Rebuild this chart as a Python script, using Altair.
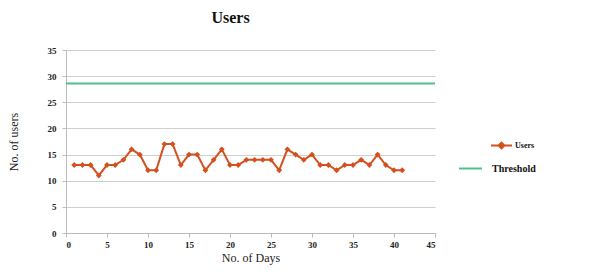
import altair as alt
import pandas as pd

days = list(range(1, 42))
users = [13, 13, 13, 11, 13, 13, 14, 16, 15, 12, 12, 17, 17, 13, 15, 15, 12, 14, 16, 13,
         13, 14, 14, 14, 14, 12, 16, 15, 14, 15, 13, 13, 12, 13, 13, 14, 13, 15, 13, 12, 12]
threshold = 28.6
users_color = "#D2511F"
threshold_color = "#4CC08E"
x_ticks = list(range(0, 46, 5))
y_ticks = list(range(0, 36, 5))

df = pd.DataFrame({"day": days, "users": users, "series": "Users"})
thr = pd.DataFrame({"y": [threshold], "series": ["Threshold"]})

FONT = "Liberation Serif"

users_col = alt.Color(
    "series:N",
    scale=alt.Scale(domain=["Users"], range=[users_color]),
    legend=alt.Legend(
        title=None, orient="none", legendX=424, legendY=84,
        symbolType="M-1,0L1,0M-0.28,0L0,-0.28L0.28,0L0,0.28Z",
        symbolStrokeWidth=2, symbolSize=441, symbolFillColor=users_color,
        labelFont=FONT, labelFontWeight="bold", labelFontSize=8,
        labelColor="#111", labelOffset=2,
    ),
)
users_col_nolegend = alt.Color("series:N", scale=alt.Scale(domain=["Users"], range=[users_color]), legend=None)
thr_stroke = alt.Stroke(
    "series:N",
    scale=alt.Scale(domain=["Threshold"], range=[threshold_color]),
    legend=alt.Legend(
        title=None, orient="none", legendX=392, legendY=106,
        symbolType="stroke", symbolStrokeWidth=2, symbolSize=529,
        labelFont=FONT, labelFontWeight="bold", labelFontSize=10,
        labelColor="#111", labelOffset=9,
    ),
)

x = alt.X("day:Q", title="No. of Days",
          scale=alt.Scale(domain=[0, 45], nice=False),
          axis=alt.Axis(values=x_ticks, grid=False))
y = alt.Y("users:Q", title="No. of users",
          scale=alt.Scale(domain=[0, 35], nice=False),
          axis=alt.Axis(values=y_ticks, grid=True))
y_rule = alt.Y("y:Q", scale=alt.Scale(domain=[0, 35], nice=False),
               axis=alt.Axis(values=y_ticks, grid=True, title="No. of users"))

line = alt.Chart(df).mark_line(strokeWidth=2).encode(x=x, y=y, color=users_col)
pts = alt.Chart(df).mark_point(shape="diamond", filled=True, size=34, opacity=1).encode(
    x=x, y=y, color=users_col_nolegend)
rule = alt.Chart(thr).mark_rule(strokeWidth=2).encode(y=y_rule, stroke=thr_stroke)

chart = alt.layer(line, pts, rule).resolve_scale(color="independent").properties(
    width=369, height=183,
    title=alt.TitleParams("Users", font=FONT, fontSize=16, fontWeight="bold",
                          color="#111", anchor="middle", dx=-20, offset=20),
    padding={"left": 58, "top": 42, "right": 154, "bottom": 36},
    autosize=alt.AutoSizeParams(type="none"),
).configure_view(stroke=None).configure_axis(
    labelFont=FONT, labelFontWeight="bold", labelFontSize=9, labelColor="#222",
    titleFont=FONT, titleFontWeight="normal", titleFontSize=12, titleColor="#222",
    domainColor="#bbb", tickColor="#bbb", gridColor="#cfcfcf", tickSize=4,
).configure_axisY(titlePadding=27, labelPadding=6).configure_axisX(titlePadding=3, labelPadding=3)

chart.save("out.html", embed_options={"renderer": "svg", "actions": False})
